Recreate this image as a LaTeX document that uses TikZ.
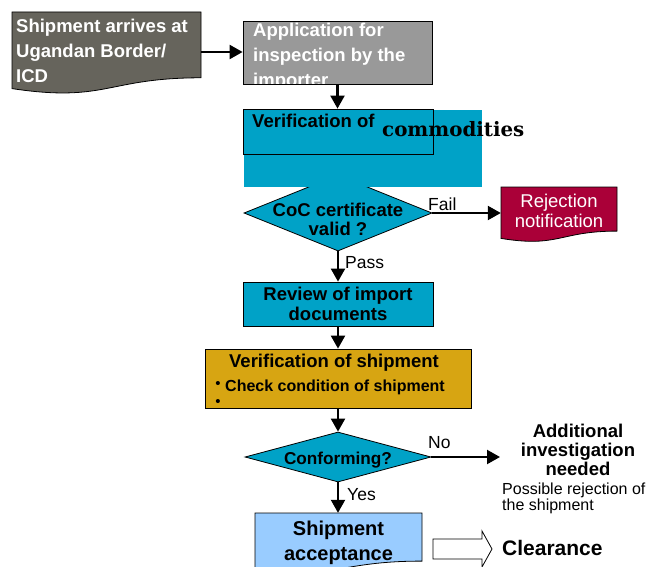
\documentclass[tikz,border=0pt]{standalone}
\usepackage{fontspec}
\setmainfont{Liberation Sans}
\newfontfamily\dvserif{DejaVu Serif}
\usetikzlibrary{arrows.meta,shapes.geometric}
\definecolor{darkbox}{HTML}{66645C}
\definecolor{appgray}{HTML}{999999}
\definecolor{cteal}{HTML}{00A2C7}
\definecolor{crim}{HTML}{AA0038}
\definecolor{cgold}{HTML}{D7A512}
\definecolor{lblue}{HTML}{99CCFF}
\tikzset{
  conn/.style={line width=2.2pt, -{Triangle[length=13pt,width=14pt]}},
  box/.style={draw=black, line width=0.8pt, inner sep=0pt},
  anchorbox/.style={inner sep=0pt},
  shapeline/.style={draw=black, line width=0.8pt},
  bt/.style={inner sep=0pt, font=\fontsize{18.5}{25}\selectfont\bfseries},
  lbl/.style={inner sep=0pt, font=\fontsize{17.5}{20}\selectfont},
}
\begin{document}
\begin{tikzpicture}[x=1pt,y=-1pt]
\useasboundingbox (0,0) rectangle (648,567);

% Shipment arrives
\node[anchorbox, minimum width=189pt, minimum height=80pt] (ship) at (106.5,52) {};
\draw[shapeline, fill=darkbox] (12,12) -- (201,12) -- (201,77.8) .. controls (106.5,77.8) and (106.5,102.8) .. (12,88.6) -- cycle;
\node[bt, text=white, align=left, anchor=north west] (shipt) at (16,18.5) {Shipment arrives at\\Ugandan Border/\\ICD};

% Application
\node[box, fill=appgray, minimum width=189pt, minimum height=63pt] (app) at (337.5,52.5) {};
\begin{scope}
\clip (243.4,21.4) rectangle (431.6,83.6);
\node[bt, text=white, align=left, anchor=north west] (appt) at (253,22.5) {Application for\\inspection by the\\importer};
\end{scope}
\draw[conn] (ship.east) -- (ship.east -| app.west);

% CoC diamond (partly behind the commodities block)
\node[diamond, box, fill=cteal, minimum width=188pt, minimum height=76pt] (coc) at (338,213) {};

% Verification of commodities
\fill[cteal] (244,110) rectangle (482,187);
\node[box, minimum width=190pt, minimum height=45pt] (verif) at (338,131.5) {};
\node[bt, anchor=base west] (veriftxt) at (252,128) {Verification of};
\node[inner sep=0pt, anchor=base west, font=\dvserif\bfseries\fontsize{19.8}{22}\selectfont] (comm) at (382,137) {commodities};
\draw[conn] (app.south) -- (app.south |- verif.north);

\node[inner sep=0pt, font=\fontsize{18.5}{19}\selectfont\bfseries, align=center, anchor=north] (coct) at (338,203) {CoC certificate\\valid ?};

% Rejection
\node[anchorbox, minimum width=116pt, minimum height=50pt] (rej) at (559,213) {};
\draw[shapeline, fill=crim] (501,187) -- (617,187) -- (617,231.1) .. controls (559,231.1) and (559,247.9) .. (501,238.4) -- cycle;
\node[inner sep=0pt, font=\fontsize{18.5}{20}\selectfont, text=white, align=center, anchor=north] (rejt) at (559,193.5) {Rejection\\notification};
\draw[conn] (coc.east) -- (rej.west);
\node[lbl, anchor=base west] (fail) at (428,210) {Fail};

% Review
\node[box, fill=cteal, minimum width=190pt, minimum height=44pt] (rev) at (338,304) {};
\node[inner sep=0pt, font=\fontsize{18.5}{20}\selectfont\bfseries, align=center, anchor=north] (revt) at (338,286.5) {Review of import\\documents};
\draw[conn] (coc.south) -- (rev.north);
\node[lbl, anchor=base west] (pass) at (345,268) {Pass};

% Verification of shipment
\node[box, fill=cgold, minimum width=266pt, minimum height=59pt] (vship) at (338,378.5) {};
\node[bt, anchor=base] (vshipt) at (334,367) {Verification of shipment};
\node[inner sep=0pt, anchor=base west, font=\fontsize{16}{18}\selectfont\bfseries] (chk) at (225,391) {Check condition of shipment};
\node[inner sep=0pt, anchor=base, font=\fontsize{15}{15}\selectfont] (bul1) at (218,388.5) {\textbullet};
\node[inner sep=0pt, anchor=base, font=\fontsize{15}{15}\selectfont] (bul2) at (218,406) {\textbullet};
\draw[conn] (rev.south) -- (vship.north);

% Conforming
\node[diamond, box, fill=cteal, minimum width=186pt, minimum height=50pt] (conf) at (338,457) {};
\node[inner sep=0pt, anchor=base, font=\fontsize{17.2}{20}\selectfont\bfseries] (conft) at (338,464) {Conforming?};
\draw[conn] (vship.south) -- (conf.north);
\coordinate (noend) at (500,457);
\draw[conn] (conf.east) -- (noend);
\node[lbl, anchor=base west] (no) at (428,448) {No};
\node[inner sep=0pt, font=\fontsize{18.5}{19}\selectfont\bfseries, align=center, anchor=north] (addt) at (578,423.5) {Additional\\investigation\\needed};
\node[inner sep=0pt, font=\fontsize{16}{16}\selectfont, align=left, anchor=north west] (poss) at (502,482.3) {Possible rejection of\\the shipment};

% Shipment acceptance
\node[anchorbox, minimum width=167pt, minimum height=48pt] (acc) at (338.5,537) {};
\draw[shapeline, fill=lblue] (255,513) -- (422,513) -- (422,561.1) .. controls (338.5,561.1) and (338.5,579.4) .. (255,569) -- cycle;
\node[inner sep=0pt, font=\fontsize{20}{25}\selectfont\bfseries, align=center, anchor=north] (acct) at (338.5,520.4) {Shipment\\acceptance};
\draw[conn] (conf.south) -- (conf.south |- acc.north);
\node[lbl, anchor=base west] (yes) at (347,500) {Yes};

% Clearance block arrow
\draw[shapeline, fill=white] (433,539) -- (482,539) -- (482,531) -- (492,549) -- (482,567) -- (482,559) -- (433,559) -- cycle;
\node[inner sep=0pt, anchor=base west, font=\fontsize{21}{25}\selectfont\bfseries] (clr) at (502,555) {Clearance};
\end{tikzpicture}
\end{document}
